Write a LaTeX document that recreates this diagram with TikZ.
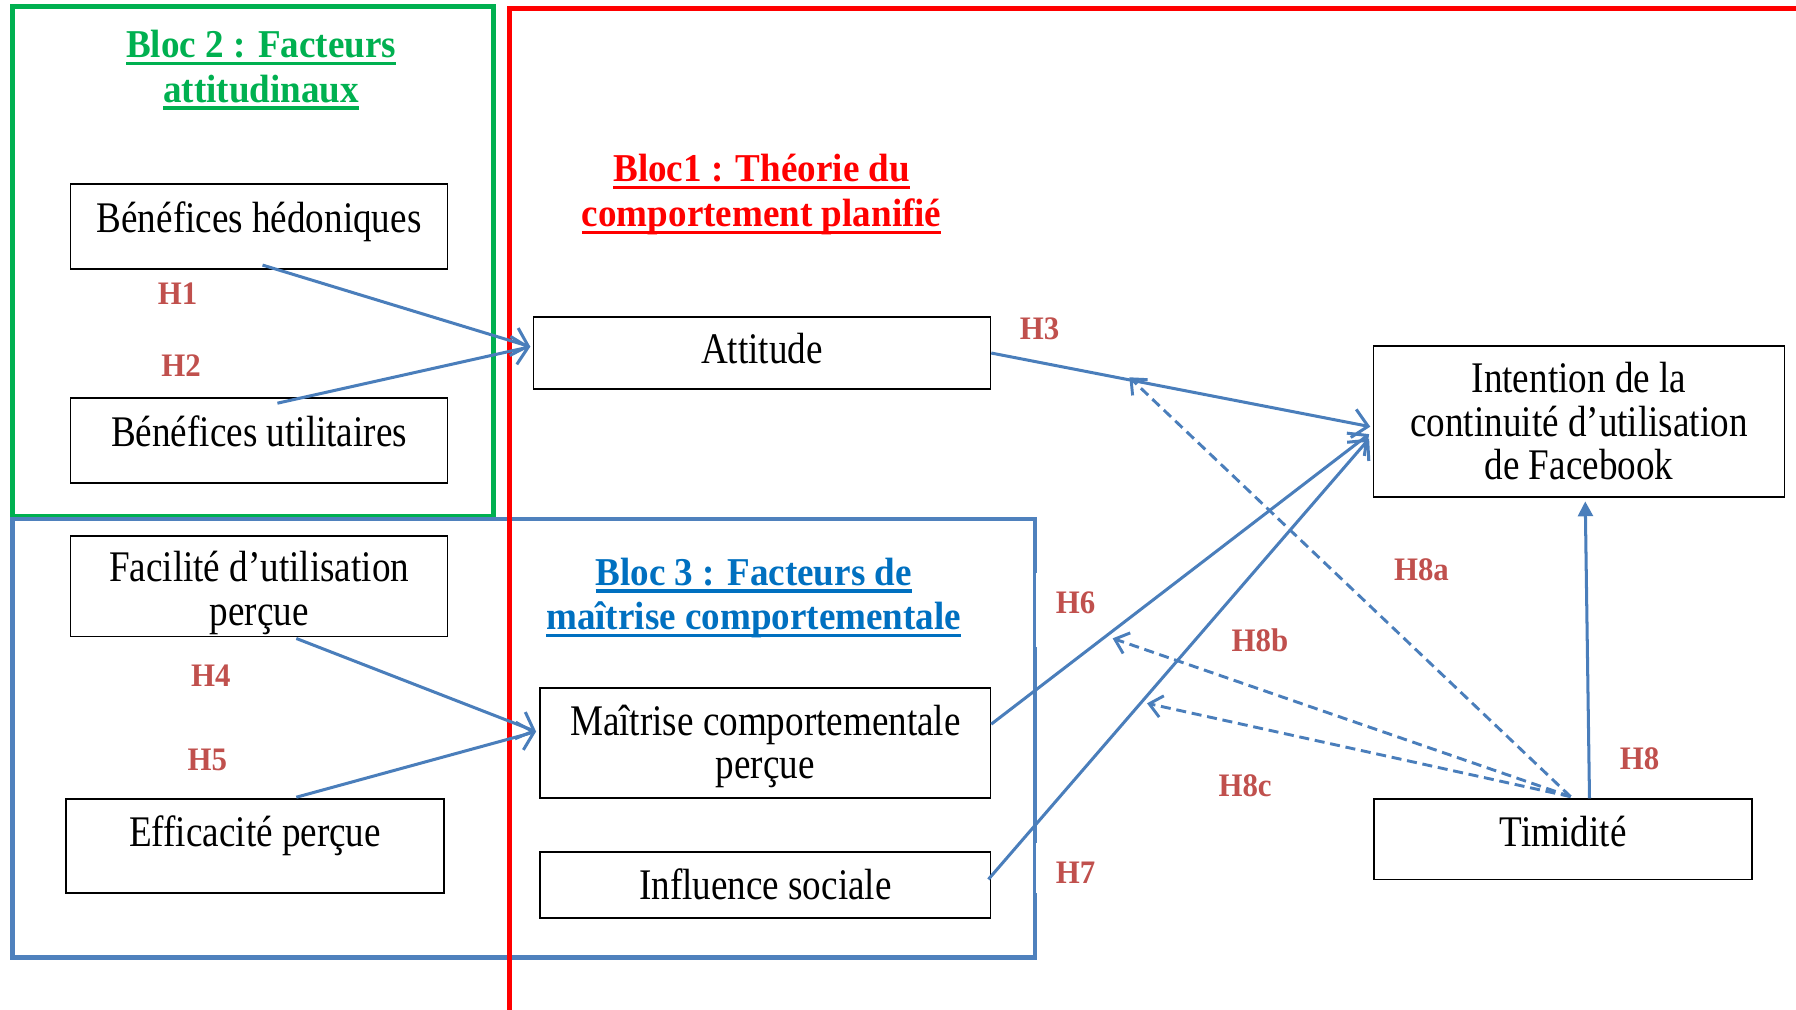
\documentclass[tikz,border=0pt]{standalone}
\usepackage{fontspec}
\setmainfont{Liberation Serif}
\newfontfamily\boxfont{Liberation Serif}[FakeStretch=0.85]
\newfontfamily\labelfont{Liberation Serif}[FakeStretch=0.94]
\usepackage{tikz}
\usetikzlibrary{calc, positioning, arrows.meta}
\definecolor{hypRed}{HTML}{C0504D}
\definecolor{lineBlue}{HTML}{4A7EBB}
\definecolor{frameBlue}{HTML}{4F81BD}
\definecolor{titleBlue}{HTML}{0070C0}
\definecolor{blocGreen}{HTML}{00B050}
\definecolor{blocRed}{HTML}{FF0000}
% thick underline for the block titles
\newcommand{\ulbloc}[1]{\setbox0=\hbox{#1}\makebox[0pt][l]{\rule[-1.3mm]{\wd0}{0.6mm}}\box0}

\begin{document}
\begin{tikzpicture}[x=0.2mm, y=-0.2mm]
            \pgfmathsetmacro{\W}{1568}
            \pgfmathsetmacro{\H}{881}
            \tikzstyle{factor}=[draw, line width=0.8pt, inner sep=0pt, align=center, font=\boxfont\fontsize{21.7}{21.6}\selectfont]
            \tikzstyle{blocTitle}=[inner sep=0pt, align=center, font=\labelfont\bfseries\fontsize{19.6}{22.2}\selectfont]
            \tikzstyle{hyp}=[inner sep=0pt, text=hypRed, font=\labelfont\bfseries\fontsize{16.3}{18}\selectfont]
            \tikzstyle{hypArrow}=[draw=lineBlue, line width=1.5pt, -{Straight Barb[length=2.6mm,width=5mm]}]
            \tikzstyle{modArrow}=[draw=lineBlue, line width=1.45pt, dash pattern=on 1.75mm off 1mm, -{Straight Barb[length=2.2mm,width=3.8mm]}]
            \useasboundingbox (0,0) rectangle (\W,\H);

            %%%%%%%%%%%%%%%%%%%%%%%%%%%%%%%%%%%%%%%%
            \draw[line width=2.2pt, blocGreen] (10.9,5.8) rectangle (431,451);
            \draw[line width=2.2pt, frameBlue] (10.9,453) rectangle (903.5,836);
            \draw[line width=2.2pt, blocRed] (445,890) -- (445,7.3) -- (1580,7.3);

            \node[hyp, fill=white, inner xsep=3.4mm, text height=7.2mm, text depth=5.8mm, anchor=base west] (h6) at (904.5,536) {H6};
            \node[hyp, fill=white, inner xsep=3.4mm, text height=7mm, text depth=1.8mm, anchor=base west] (h7) at (904.5,771) {H7};

            \node[blocTitle, text=blocGreen] (bloc2) at (228,61) {\ulbloc{Bloc 2 : Facteurs}\\\ulbloc{attitudinaux}};
            \node[blocTitle, text=blocRed] (bloc1) at (665,170) {\ulbloc{Bloc1 : Théorie du}\\\ulbloc{comportement planifié}};
            \node[blocTitle, text=titleBlue] (bloc3) at (658,522) {\ulbloc{Bloc 3 : Facteurs de}\\\ulbloc{maîtrise comportementale}};

            %%%%%%%%%%%%%%%%%%%%%%%%%%%%%%%%%%%%%%%%
            \node[factor, minimum width=65.8mm, text height=8.4mm, text depth=6.4mm, anchor=north west] (hedon) at (61,160) {Bénéfices hédoniques};
            \node[factor, minimum width=65.8mm, text height=8.4mm, text depth=6.4mm, anchor=north west] (util) at (61,347) {Bénéfices utilitaires};
            \node[factor, minimum width=65.8mm, text height=15.6mm, text depth=2mm, anchor=north west] (facil) at (61,467) {Facilité d’utilisation\\perçue};
            \node[factor, minimum width=66mm, text height=8.2mm, text depth=8.2mm, anchor=north west] (effic) at (57,697) {Efficacité perçue};

            \node[factor, minimum width=79.8mm, text height=8.2mm, text depth=4.4mm, anchor=north west] (attitude) at (465,276) {Attitude};
            \node[factor, minimum width=78.6mm, text height=15.8mm, text depth=3.4mm, anchor=north west] (maitrise) at (471,600) {Maîtrise comportementale\\perçue};
            \node[factor, minimum width=78.6mm, text height=8.4mm, text depth=3.2mm, anchor=north west] (influence) at (471,743) {Influence sociale};

            \node[factor, minimum width=71.8mm, minimum height=26.4mm] (intention) at (1378.5,368) {Intention de la\\continuité d’utilisation\\de Facebook};
            \node[factor, minimum width=66mm, text height=8.2mm, text depth=5.8mm, anchor=north west] (timid) at (1199,697) {Timidité};

            %%%%%%%%%%%%%%%%%%%%%%%%%%%%%%%%%%%%%%%%
            \draw[hypArrow] ($(hedon.south)+(3,-4)$) -- ($(attitude.west)+(-2,-5.5)$);
            \draw[hypArrow] ($(util.north)+(16,5)$) -- ($(attitude.west)+(-2,-5.5)$);
            \draw[hypArrow] (attitude.east) -- ($(intention.west)+(-2,4.5)$);
            \draw[hypArrow] ($(facil.south)+(32.5,1)$) -- ($(maitrise.west)+(-3,-10)$);
            \draw[hypArrow] ($(effic.north)+(36,-1)$) -- ($(maitrise.west)+(-3,-10)$);
            \draw[hypArrow] ($(maitrise.east)+(0,-16.5)$) -- ($(intention.west)+(-3,11)$);
            \draw[hypArrow] ($(influence.east)+(-2.5,-5)$) -- ($(intention.west)+(-3,15)$);
            \draw[draw=lineBlue, line width=1.5pt, -{Triangle[length=2.6mm,width=2.6mm]}] ($(timid.north)+(23,0)$) -- ($(intention.south)+(5.5,3)$);

            \coordinate (timTop) at ($(timid.north)+(6.5,-1.5)$);
            \coordinate (h8aEnd) at (986,329.4);
            \coordinate (h8bEnd) at (971.4,557.3);
            \coordinate (h8cEnd) at (1001.4,614);
            \draw[modArrow] (timTop) -- (h8aEnd);
            \draw[modArrow] (timTop) -- (h8bEnd);
            \draw[modArrow] (timTop) -- (h8cEnd);

            %%%%%%%%%%%%%%%%%%%%%%%%%%%%%%%%%%%%%%%%
            \node[hyp, anchor=base] (h1) at (155,266) {H1};
            \node[hyp, anchor=base] (h2) at (158,329) {H2};
            \node[hyp, anchor=base] (h3) at (907.7,296) {H3};
            \node[hyp, anchor=base] (h4) at (184,599) {H4};
            \node[hyp, anchor=base] (h5) at (181,673) {H5};
            \node[hyp, anchor=base] (h8) at (1431.5,672) {H8};
            \node[hyp, anchor=base] (h8a) at (1241,506.5) {H8a};
            \node[hyp, anchor=base] (h8b) at (1100,569) {H8b};
            \node[hyp, anchor=base] (h8c) at (1087,695.5) {H8c};
\end{tikzpicture}
\end{document}
